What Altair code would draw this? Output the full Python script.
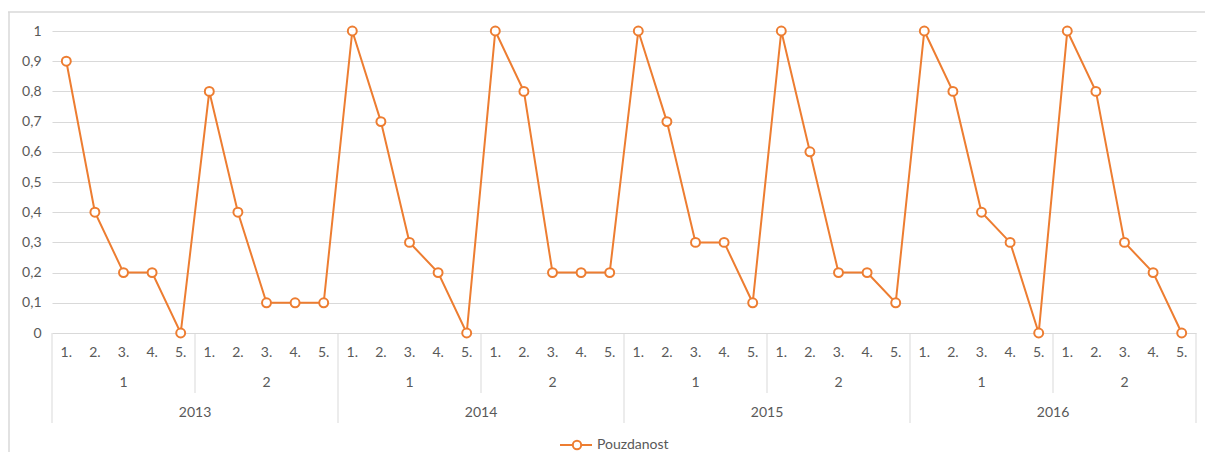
import altair as alt
import pandas as pd

years = ["2013", "2014", "2015", "2016"]
halves = ["1", "2"]
periods = ["1.", "2.", "3.", "4.", "5."]
values = [
    0.9, 0.4, 0.2, 0.2, 0.0,
    0.8, 0.4, 0.1, 0.1, 0.1,
    1.0, 0.7, 0.3, 0.2, 0.0,
    1.0, 0.8, 0.2, 0.2, 0.2,
    1.0, 0.7, 0.3, 0.3, 0.1,
    1.0, 0.6, 0.2, 0.2, 0.1,
    1.0, 0.8, 0.4, 0.3, 0.0,
    1.0, 0.8, 0.3, 0.2, 0.0,
]
series_name = "Pouzdanost"

ORANGE = "#ED7D31"
GRID = "#D9D9D9"
TEXT = "#595959"
FONT = "Lato"
FS = 14

W, H = 1144, 302
PAD_L, PAD_T, PAD_R, PAD_B = 44, 23, 9, 119

rows = []
i = 0
for y in years:
    for h in halves:
        for p in periods:
            rows.append({"idx": i, "year": y, "half": h, "period": p, "val": values[i]})
            i += 1
df = pd.DataFrame(rows)

half_df = pd.DataFrame([
    {"center": yi * 10 + hi * 5 + 2, "label": h}
    for yi, y in enumerate(years) for hi, h in enumerate(halves)
])
year_df = pd.DataFrame([
    {"center": yi * 10 + 4.5, "label": y} for yi, y in enumerate(years)
])
half_sep = pd.DataFrame([{"pos": yi * 10 + 4.5} for yi in range(len(years))])
year_sep = pd.DataFrame([{"pos": yi * 10 - 0.5} for yi in range(len(years) + 1)])

xscale = alt.Scale(domain=[-0.5, len(values) - 0.5], nice=False, zero=False)
yscale = alt.Scale(domain=[0, 1], nice=False)

yaxis = alt.Axis(
    values=[i / 10 for i in range(11)],
    labelExpr="replace(format(datum.value, '.1~f'), '.', ',')",
    grid=True, gridColor=GRID, gridWidth=1,
    domain=False, ticks=False, title=None,
    labelColor=TEXT, labelFont=FONT, labelFontSize=FS,
    labelPadding=11,
)

def X(field):
    return alt.X(field, scale=xscale, axis=None)

def Y(field):
    return alt.Y(field, scale=yscale, axis=yaxis)

base = alt.Chart(df)

line = base.mark_line(stroke=ORANGE, strokeWidth=2).encode(x=X("idx:Q"), y=Y("val:Q"))
points = base.mark_point(
    shape="circle", filled=True, fill="white", stroke=ORANGE,
    strokeWidth=2, size=80, opacity=1,
).encode(x=X("idx:Q"), y=Y("val:Q"))

txt = dict(font=FONT, fontSize=FS, baseline="middle", align="center")

period_text = base.mark_text(**txt).encode(
    x=X("idx:Q"), y=alt.value(H + 20), text="period:N", fill=alt.value(TEXT)
)
half_text = alt.Chart(half_df).mark_text(**txt).encode(
    x=X("center:Q"), y=alt.value(H + 50), text="label:N", fill=alt.value(TEXT)
)
year_text = alt.Chart(year_df).mark_text(**txt).encode(
    x=X("center:Q"), y=alt.value(H + 80), text="label:N", fill=alt.value(TEXT)
)

half_rules = alt.Chart(half_sep).mark_rule(strokeWidth=1).encode(
    x=X("pos:Q"), y=alt.value(H), y2=alt.value(H + 60), stroke=alt.value(GRID)
)
year_rules = alt.Chart(year_sep).mark_rule(strokeWidth=1).encode(
    x=X("pos:Q"), y=alt.value(H), y2=alt.value(H + 90), stroke=alt.value(GRID)
)

one = pd.DataFrame({"t": [series_name]})

# legend
leg_y = 414
legend_line = alt.Chart(one).mark_rule(strokeWidth=2).encode(
    x=alt.value(508), x2=alt.value(540), y=alt.value(leg_y), stroke=alt.value(ORANGE)
)
legend_pt = alt.Chart(one).mark_point(
    shape="circle", filled=True, strokeWidth=2, size=70, opacity=1
).encode(x=alt.value(525), y=alt.value(leg_y), fill=alt.value("white"), stroke=alt.value(ORANGE))
legend_txt = alt.Chart(one).mark_text(
    font=FONT, fontSize=FS, align="left", baseline="middle"
).encode(x=alt.value(545), y=alt.value(leg_y), text="t:N", fill=alt.value(TEXT))

# chart area frame (top and left edges)
frame_top = alt.Chart(one).mark_rule(strokeWidth=1.5).encode(
    x=alt.value(-PAD_L), x2=alt.value(W + PAD_R), y=alt.value(-19), stroke=alt.value(GRID)
)
frame_left = alt.Chart(one).mark_rule(strokeWidth=1.5).encode(
    x=alt.value(-PAD_L + 1), y=alt.value(-19), y2=alt.value(H + PAD_B), stroke=alt.value(GRID)
)

chart = alt.layer(
    line, points,
    half_rules, year_rules,
    period_text, half_text, year_text,
    legend_line, legend_pt, legend_txt,
    frame_top, frame_left,
).properties(
    width=W, height=H,
    autosize=alt.AutoSizeParams(type="none"),
    padding={"left": PAD_L, "top": PAD_T, "right": PAD_R, "bottom": PAD_B},
    background="white",
).configure_view(stroke=None).configure_text(fill=TEXT)

chart.save("out.html", embed_options={"renderer": "svg", "actions": False})
